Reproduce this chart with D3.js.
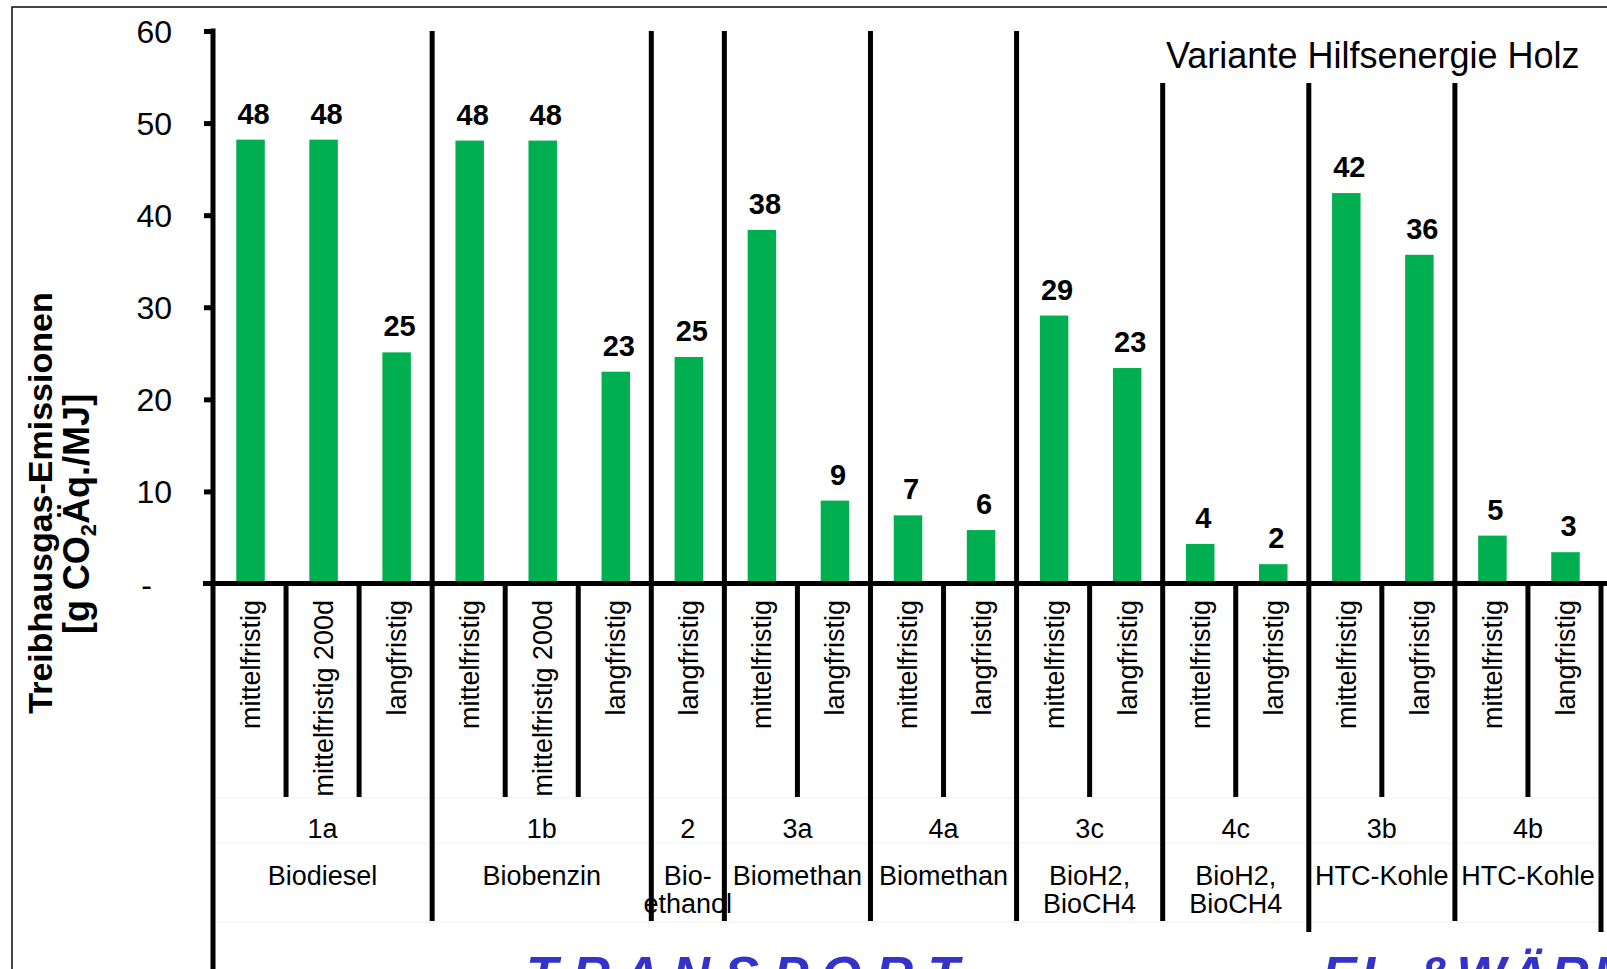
<!DOCTYPE html>
<html>
<head>
<meta charset="utf-8">
<script src="https://cdn.jsdelivr.net/npm/d3@7"></script>
<style>
  body { margin: 0; background: #fff; }
  svg { display: block; }
  text { font-family: "Liberation Sans", Arial, Helvetica, sans-serif; }
</style>
</head>
<body>
<svg id="chart" width="1607" height="969"></svg>
<script>
// ---- data -------------------------------------------------------------
const groupCodes = ["1a", "1b", "2", "3a", "4a", "3c", "4c", "3b", "4b"];
const groupNames = [
  ["Biodiesel"], ["Biobenzin"], ["Bio-", "ethanol"], ["Biomethan"], ["Biomethan"],
  ["BioH2,", "BioCH4"], ["BioH2,", "BioCH4"], ["HTC-Kohle"], ["HTC-Kohle"]
];
const groupSizes = [3, 3, 1, 2, 2, 2, 2, 2, 2];
const barLabels = [
  "mittelfristig", "mittelfristig 200d", "langfristig",
  "mittelfristig", "mittelfristig 200d", "langfristig",
  "langfristig",
  "mittelfristig", "langfristig",
  "mittelfristig", "langfristig",
  "mittelfristig", "langfristig",
  "mittelfristig", "langfristig",
  "mittelfristig", "langfristig",
  "mittelfristig", "langfristig"
];
// g CO2-Äq. per MJ
const emissions = [
  48.2, 48.2, 25.1,
  48.1, 48.1, 23.0,
  24.6,
  38.4, 9.0,
  7.4, 5.8,
  29.1, 23.4,
  4.3, 2.1,
  42.4, 35.7,
  5.2, 3.4
];
const yTicks = [0, 10, 20, 30, 40, 50, 60];
const sections = ["T R A N S P O R T", "EL.&WÄRME"];
const sectionGroupCounts = [7, 2];   // groups per section
const chartNote = "Variante Hilfsenergie Holz";
const yTitle = ["Treibhausgas-Emissionen", ["[g CO", "2", "Äq./MJ]"]];

// ---- layout -----------------------------------------------------------
const W = 1607, H = 969;
const plotLeft = 213, plotRight = 1601;
const yBase = 583.5, yTop = 31;
const noteClear = 83;          // separators under the note start lower
const row1Bottom = 797, row2Mid = 843, rowsBottom = 921, sectionBottom = 932;
const green = "#00B050", blue = "#3333CC";

const svg = d3.select("#chart");
svg.append("rect").attr("width", W).attr("height", H).attr("fill", "#fff");

// outer frame (continues past the visible area)
svg.append("rect")
  .attr("x", 12).attr("y", 7).attr("width", W + 50).attr("height", H + 50)
  .attr("fill", "none").attr("stroke", "#1a1a1a").attr("stroke-width", 1.6);

const x = d3.scaleBand().domain(d3.range(emissions.length)).range([plotLeft, plotRight]).padding(0);
const y = d3.scaleLinear().domain([0, 60]).range([yBase, yTop]);
const bw = x.bandwidth();
const barW = bw * 0.39;
const edge = i => (i >= emissions.length ? plotRight : x(i));

// group boundaries (bar index where each group starts)
const starts = [0];
groupSizes.forEach(s => starts.push(starts[starts.length - 1] + s));
const sectionStarts = [0];
sectionGroupCounts.forEach(c => sectionStarts.push(sectionStarts[sectionStarts.length - 1] + c));
const sectionEdgesIdx = sectionStarts.map(g => starts[g]);
const firstUnderNote = starts[6];   // groups from "4c" on sit under the note

// ---- bars ---------------------------------------------------------------
svg.append("g").selectAll("rect").data(emissions).join("rect")
  .attr("x", (d, i) => x(i) + (bw - barW) / 2 + 1)
  .attr("y", d => y(d))
  .attr("width", barW)
  .attr("height", d => yBase - y(d))
  .attr("fill", green);

// value labels
const fmt = d3.format(".0f");
svg.append("g").selectAll("text").data(emissions).join("text")
  .attr("x", (d, i) => x(i) + bw / 2 + 4)
  .attr("y", d => y(d) - 16)
  .attr("text-anchor", "middle")
  .attr("font-size", 29).attr("font-weight", "bold").attr("fill", "#000")
  .text(d => fmt(d));

// ---- group labels below the axis -----------------------------------------
const gl = svg.append("g");
groupCodes.forEach((code, g) => {
  const cx = (edge(starts[g]) + edge(starts[g + 1])) / 2;
  gl.append("text").attr("x", cx).attr("y", 838)
    .attr("text-anchor", "middle").attr("font-size", 27).text(code);
  groupNames[g].forEach((line, k) => {
    gl.append("text").attr("x", cx).attr("y", 885 + k * 28)
      .attr("text-anchor", "middle").attr("font-size", 27).text(line);
  });
});

// rotated bar labels
svg.append("g").selectAll("text").data(barLabels).join("text")
  .attr("transform", (d, i) => `translate(${x(i) + bw / 2 + 1},600) rotate(-90)`)
  .attr("text-anchor", "end").attr("dy", "0.35em")
  .attr("font-size", 27).text(d => d);

// ---- lines ----------------------------------------------------------------
// faint row dividers of the category axis
const faint = svg.append("g").attr("stroke", "#eeeeee").attr("stroke-width", 1);
[row1Bottom + 1, row2Mid, rowsBottom + 1].forEach(yy => {
  faint.append("line").attr("x1", plotLeft - 3).attr("x2", plotRight + 3).attr("y1", yy).attr("y2", yy);
});

const lines = svg.append("g").attr("stroke", "#000").attr("stroke-width", 5);

// separators between groups, plot area
starts.slice(1, -1).forEach(s => {
  const top = s >= firstUnderNote ? noteClear : y(60);
  lines.append("line").attr("x1", x(s)).attr("x2", x(s)).attr("y1", top).attr("y2", yBase);
});

// separators inside groups, first label row
d3.range(1, emissions.length).filter(i => !starts.includes(i)).forEach(i => {
  lines.append("line").attr("x1", x(i)).attr("x2", x(i)).attr("y1", yBase).attr("y2", row1Bottom);
});

// group separators, label rows
starts.slice(1).forEach(s => {
  const isSection = sectionEdgesIdx.includes(s);
  lines.append("line").attr("x1", edge(s)).attr("x2", edge(s))
    .attr("y1", yBase).attr("y2", isSection ? sectionBottom : rowsBottom);
});

// value axis line, continuing down through the category rows
svg.append("line").attr("x1", plotLeft).attr("x2", plotLeft)
  .attr("y1", y(60) - 2.5).attr("y2", H)
  .attr("stroke", "#000").attr("stroke-width", 5);

// category baseline
svg.append("line").attr("x1", plotLeft - 10).attr("x2", W)
  .attr("y1", yBase).attr("y2", yBase)
  .attr("stroke", "#000").attr("stroke-width", 5);

// ---- value axis -----------------------------------------------------------
const yAxis = d3.axisLeft(y).tickValues(yTicks).tickSize(9).tickPadding(32)
  .tickFormat(v => (v === 0 ? "-" : v));
const ya = svg.append("g").attr("transform", `translate(${plotLeft},0)`).call(yAxis);
ya.select(".domain").remove();
ya.selectAll(".tick line").attr("stroke", "#000").attr("stroke-width", 5);
ya.selectAll(".tick text")
  .attr("font-size", 32).attr("font-family", '"Liberation Sans", Arial, sans-serif')
  .attr("fill", "#000").attr("dy", "0.36em")
  .attr("dx", v => (v === 0 ? -20 : 0));
ya.selectAll(".tick").filter(v => v === 0).select("line").remove();

// axis title
svg.append("text")
  .attr("transform", "translate(52,503) rotate(-90)")
  .attr("text-anchor", "middle").attr("font-size", 34).attr("font-weight", "bold")
  .text(yTitle[0]);
const t2 = svg.append("text")
  .attr("transform", "translate(89,514) rotate(-90)")
  .attr("text-anchor", "middle").attr("font-size", 36).attr("font-weight", "bold");
t2.append("tspan").text(yTitle[1][0]);
t2.append("tspan").attr("font-size", 22).attr("dy", 7).text(yTitle[1][1]);
t2.append("tspan").attr("dy", -7).text(yTitle[1][2]);

// note
svg.append("text").attr("x", 1166).attr("y", 68)
  .attr("font-size", 36).attr("fill", "#000").text(chartNote);

// section labels at the bottom
svg.append("text").attr("x", 526).attr("y", 993)
  .attr("font-size", 52).attr("font-weight", "bold").attr("font-style", "italic")
  .attr("fill", blue).text(sections[0]);
svg.append("text").attr("x", 1322).attr("y", 993)
  .attr("font-size", 52).attr("font-weight", "bold").attr("font-style", "italic")
  .attr("letter-spacing", 4).attr("fill", blue).text(sections[1]);
</script>
</body>
</html>
